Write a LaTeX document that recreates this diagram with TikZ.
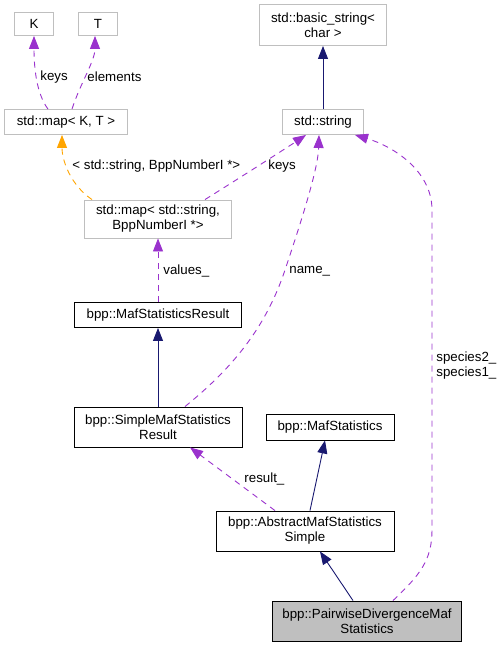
\documentclass[tikz,border=0pt]{standalone}
\usepackage{fontspec}
\setmainfont{Liberation Sans}
\usetikzlibrary{arrows.meta}
\definecolor{member}{HTML}{9A32CD}
\definecolor{tmpl}{HTML}{FFA500}
\definecolor{inherit}{HTML}{191970}
\definecolor{extbox}{HTML}{BFBFBF}
\definecolor{curbox}{HTML}{BFBFBF}

\begin{document}
\begin{tikzpicture}[
  x=1pt, y=-1pt,
  every node/.style={font=\fontsize{13.3}{15}\selectfont},
  box/.style={draw=#1, line width=0.9pt, inner sep=0pt, align=center, fill=white},
  usedby/.style={draw=member, line width=0.9pt, dash pattern=on 6pt off 5pt, -{Triangle[length=13pt,width=10pt]}},
  tmplof/.style={usedby, draw=tmpl},
  derived/.style={draw=inherit, line width=0.9pt, -{Triangle[length=13pt,width=10pt]}},
  lbl/.style={anchor=west, inner sep=0pt, align=left}
]
  \useasboundingbox (0,0) rectangle (501,648);

  % template parameters and std types
  \node[box=extbox, minimum width=39pt, minimum height=23pt] (K) at (34,24) {K};
  \node[box=extbox, minimum width=39pt, minimum height=23pt] (T) at (98,24) {T};
  \node[box=extbox, minimum width=123pt, minimum height=25pt] (mapkt) at (66,122) {std::map< K, T >};
  \node[box=extbox, minimum width=127pt, minimum height=41pt] (basic) at (323,25) {std::basic\_string<\\char >};
  \node[box=extbox, minimum width=81pt, minimum height=25pt] (string) at (323,122) {std::string};
  \node[box=extbox, minimum width=147pt, minimum height=38pt] (mapstr) at (158,219) {std::map< std::string,\\BppNumberI *>};

  % bpp classes
  \node[box=black, minimum width=167pt, minimum height=25pt] (msr) at (158,315) {bpp::MafStatisticsResult};
  \node[box=black, minimum width=168pt, minimum height=40pt] (smsr) at (158,427) {bpp::SimpleMafStatistics\\Result};
  \node[box=black, minimum width=128pt, minimum height=26pt] (ms) at (330,427) {bpp::MafStatistics};
  \node[box=black, minimum width=178pt, minimum height=40pt] (ams) at (305,531) {bpp::AbstractMafStatistics\\Simple};
  \node[box=black, fill=curbox, minimum width=189pt, minimum height=40pt] (pw) at (367,621) {bpp::PairwiseDivergenceMaf\\Statistics};

  % members
  \draw[usedby] ([xshift=-18pt]mapkt.north) .. controls +(-12,-16) and +(0,30) .. (K.south)
    node[lbl] at (40,77) {keys};
  \draw[usedby] ([xshift=6pt]mapkt.north) .. controls +(8,-25) and +(0,25) .. ([xshift=-3pt]T.south)
    node[lbl] at (87,77) {elements};
  \draw[tmplof] ([xshift=-66pt]mapstr.north) .. controls +(-22,-15) and +(0,25) .. ([xshift=-4pt]mapkt.south)
    node[lbl] at (72,166) {< std::string, BppNumberI *>};
  \draw[usedby] ([xshift=47pt]mapstr.north) .. controls +(40,-25) and +(-15,10) .. ([xshift=-17pt]string.south)
    node[lbl] at (268,166) {keys};
  \draw[usedby] (msr.north) -- (mapstr.south)
    node[lbl] at (163,271) {values\_};
  \draw[usedby] ([xshift=27pt]smsr.north) .. controls (230,370) and (265,330) .. (285,270)
    .. controls (300,225) and (318,170) .. ([xshift=-4pt]string.south)
    node[lbl] at (289,271) {name\_};
  \draw[usedby] ([xshift=-30pt]ams.north) -- ([xshift=32pt]smsr.south)
    node[lbl] at (244,479) {result\_};
  \draw[usedby] ([xshift=26pt]pw.north) .. controls (420,575) and (432,560) .. (432,530)
    -- (432,210) .. controls (432,170) and (392,146) .. ([xshift=32pt]string.south)
    node[lbl] at (436,366) {species2\_\\species1\_};

  % inheritance
  \draw[derived] (string.north) -- (basic.south);
  \draw[derived] (smsr.north) -- (msr.south);
  \draw[derived] ([xshift=5pt]ams.north) -- ([xshift=-5pt]ms.south);
  \draw[derived] ([xshift=-14pt]pw.north) -- ([xshift=15pt]ams.south);
\end{tikzpicture}
\end{document}
